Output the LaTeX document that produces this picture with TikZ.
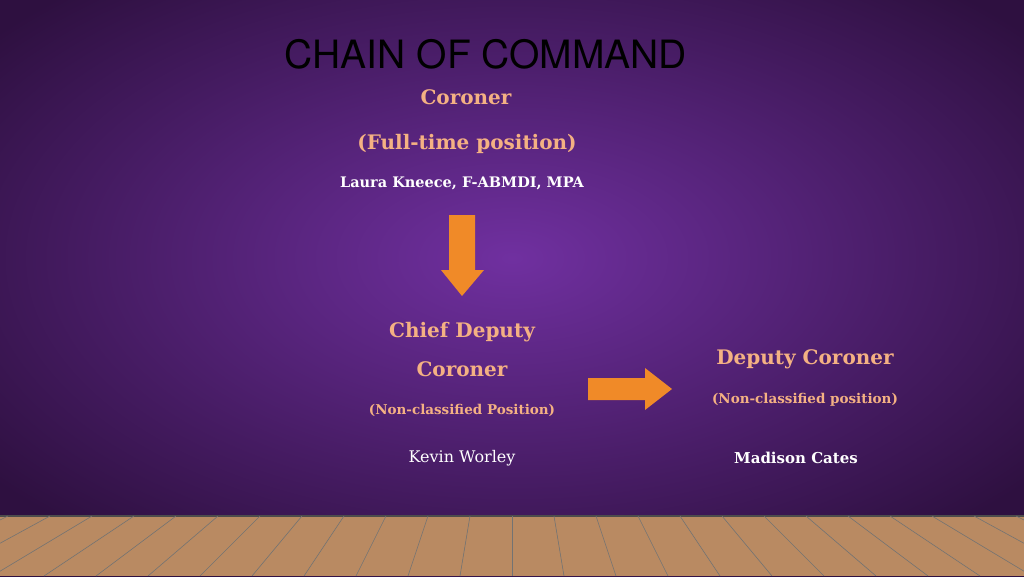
\documentclass[tikz,border=0pt]{standalone}
\usepackage{fontspec}
\setmainfont{DejaVu Serif}
\setsansfont{TeX Gyre Heros}
\usetikzlibrary{positioning}
\definecolor{peach}{HTML}{F4B183}
\definecolor{arroworange}{HTML}{F08A28}
\definecolor{purplemid}{HTML}{7030A0}
\definecolor{purpledark}{HTML}{2E1040}
\definecolor{wood}{HTML}{B98A62}
\tikzset{
  rank/.style={text=peach, font=\bfseries\fontsize{20}{24}\selectfont, inner sep=0pt},
  note/.style={text=peach, font=\bfseries\fontsize{13.5}{16}\selectfont, inner sep=0pt},
  person/.style={text=white, font=\fontsize{16}{19}\selectfont, inner sep=0pt},
  fatarrow/.style={fill=arroworange, draw=none}
}
\begin{document}
\begin{tikzpicture}[x=1pt,y=-1pt]
\useasboundingbox (0,0) rectangle (1024,576);
% backdrop
\shade[inner color=purplemid, outer color=purpledark] (-150,-100) rectangle (1174,616);
\fill[wood] (0,516) rectangle (1024,576);
\draw[black!70, line width=1.5pt] (0,516) -- (1024,516);
\foreach \i in {-12,...,12}
  \draw[black!55, line width=0.6pt] (512+\i*42,516) -- (512+\i*52,576);
% texts
\node (title) at (486,54) {\sffamily\fontsize{39}{44}\selectfont CHAIN OF COMMAND};
\node[rank] (coroner) at (466,97) {Coroner};
\node[rank] (fulltime) at (467,144) {(Full-time position)};
\node[text=white, font=\bfseries\fontsize{14.5}{17}\selectfont] (laura) at (462,183) {Laura Kneece, F-ABMDI, MPA};
\node[rank] (chief) at (462,332) {Chief Deputy};
\node[rank] (chief2) at (462,369) {Coroner};
\node[note] (chiefnote) at (462,410) {(Non-classified Position)};
\node[person] (kevin) at (462,458) {Kevin Worley};
\node[rank] (deputy) at (805,359) {Deputy Coroner};
\node[note] (deputynote) at (805,400) {(Non-classified position)};
\node[person, font=\bfseries\fontsize{15}{18}\selectfont] (madison) at (796,458) {Madison Cates};
% arrows
\fill[fatarrow] (449,215) -- (475,215) -- (475,270) -- (484,270) -- (462,296) -- (441,270) -- (449,270) -- cycle;
\fill[fatarrow] (588,378) -- (645,378) -- (645,368) -- (672,389) -- (645,410) -- (645,400) -- (588,400) -- cycle;
\end{tikzpicture}
\end{document}
